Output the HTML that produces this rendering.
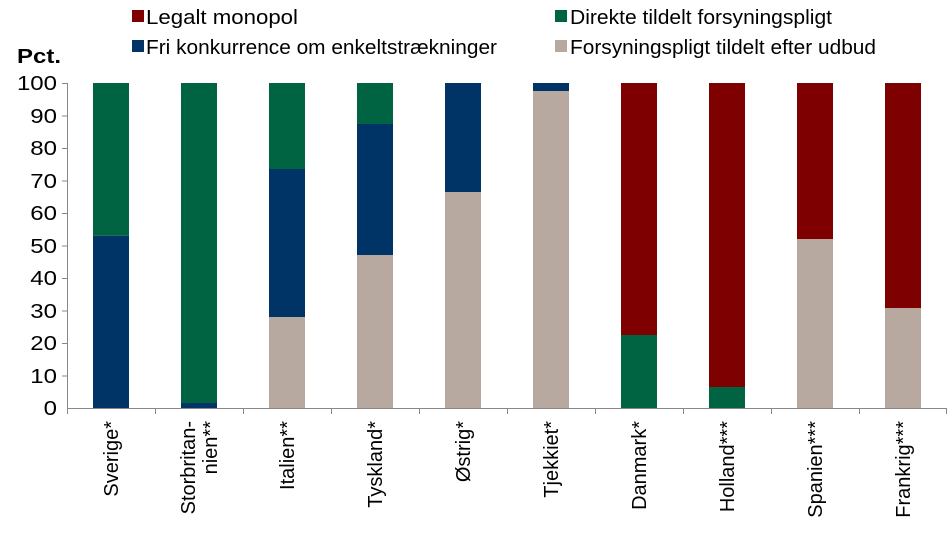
<!DOCTYPE html>
<html><head><meta charset="utf-8"><style>
body{margin:0;background:#fff}
text{font-family:"Liberation Sans",Arial,sans-serif;fill:#000}
</style></head><body>
<svg width="950" height="529" xmlns="http://www.w3.org/2000/svg">
<g font-size="20">
<rect x="132" y="10" width="12" height="12" fill="#7f0000"/><text x="146" y="24" textLength="152" lengthAdjust="spacingAndGlyphs">Legalt monopol</text>
<rect x="132" y="40" width="12" height="12" fill="#003366"/><text x="146" y="54" textLength="351" lengthAdjust="spacingAndGlyphs">Fri konkurrence om enkeltstrækninger</text>
<rect x="555" y="10" width="12" height="12" fill="#006341"/><text x="570" y="24" textLength="262" lengthAdjust="spacingAndGlyphs">Direkte tildelt forsyningspligt</text>
<rect x="555" y="40" width="12" height="12" fill="#b8a9a0"/><text x="570" y="54" textLength="306" lengthAdjust="spacingAndGlyphs">Forsyningspligt tildelt efter udbud</text>
</g>
<text x="17" y="63" font-size="20" font-weight="bold" textLength="44" lengthAdjust="spacingAndGlyphs">Pct.</text>
<g font-size="20" text-anchor="end" transform="translate(57,0) scale(1.2,1) translate(-57,0)">
<text x="57" y="90">100</text><text x="57" y="123">90</text><text x="57" y="155">80</text><text x="57" y="188">70</text><text x="57" y="220">60</text><text x="57" y="253">50</text><text x="57" y="285">40</text><text x="57" y="318">30</text><text x="57" y="350">20</text><text x="57" y="383">10</text><text x="57" y="415">0</text>
</g>
<g stroke="#888" stroke-width="1">
<line x1="67.5" y1="83" x2="67.5" y2="408"/>
<line x1="62" y1="83.5" x2="67" y2="83.5"/><line x1="62" y1="116" x2="67" y2="116"/><line x1="62" y1="148.5" x2="67" y2="148.5"/><line x1="62" y1="181" x2="67" y2="181"/><line x1="62" y1="213.5" x2="67" y2="213.5"/><line x1="62" y1="246" x2="67" y2="246"/><line x1="62" y1="278.5" x2="67" y2="278.5"/><line x1="62" y1="311" x2="67" y2="311"/><line x1="62" y1="343.5" x2="67" y2="343.5"/><line x1="62" y1="376" x2="67" y2="376"/>
<line x1="67" y1="408.5" x2="947" y2="408.5"/>
<line x1="67.5" y1="408" x2="67.5" y2="414"/><line x1="155.5" y1="408" x2="155.5" y2="414"/><line x1="243.5" y1="408" x2="243.5" y2="414"/><line x1="331.5" y1="408" x2="331.5" y2="414"/><line x1="419.5" y1="408" x2="419.5" y2="414"/><line x1="507.5" y1="408" x2="507.5" y2="414"/><line x1="595.5" y1="408" x2="595.5" y2="414"/><line x1="683.5" y1="408" x2="683.5" y2="414"/><line x1="771.5" y1="408" x2="771.5" y2="414"/><line x1="859.5" y1="408" x2="859.5" y2="414"/><line x1="946.5" y1="408" x2="946.5" y2="414"/>
</g>
<rect x="93" y="83" width="36" height="152.75" fill="#006341"/><rect x="93" y="235.75" width="36" height="172.25" fill="#003366"/>
<rect x="181" y="83" width="36" height="320" fill="#006341"/><rect x="181" y="403" width="36" height="5" fill="#003366"/>
<rect x="269" y="83" width="36" height="86" fill="#006341"/><rect x="269" y="169" width="36" height="148" fill="#003366"/><rect x="269" y="317" width="36" height="91" fill="#b8a9a0"/>
<rect x="357" y="83" width="36" height="41" fill="#006341"/><rect x="357" y="124" width="36" height="131" fill="#003366"/><rect x="357" y="255" width="36" height="153" fill="#b8a9a0"/>
<rect x="445" y="83" width="36" height="109" fill="#003366"/><rect x="445" y="192" width="36" height="216" fill="#b8a9a0"/>
<rect x="533" y="83" width="36" height="8" fill="#003366"/><rect x="533" y="91" width="36" height="317" fill="#b8a9a0"/>
<rect x="621" y="83" width="36" height="252" fill="#7f0000"/><rect x="621" y="335" width="36" height="73" fill="#006341"/>
<rect x="709" y="83" width="36" height="304" fill="#7f0000"/><rect x="709" y="387" width="36" height="21" fill="#006341"/>
<rect x="797" y="83" width="36" height="156" fill="#7f0000"/><rect x="797" y="239" width="36" height="169" fill="#b8a9a0"/>
<rect x="885" y="83" width="36" height="225" fill="#7f0000"/><rect x="885" y="308" width="36" height="100" fill="#b8a9a0"/>
<g font-size="20" text-anchor="end">
<text transform="translate(118,421) rotate(-90)">Sverige*</text>
<text transform="translate(195,421) rotate(-90)">Storbritan-</text>
<text transform="translate(217,421) rotate(-90)">nien**</text>
<text transform="translate(294,421) rotate(-90)">Italien**</text>
<text transform="translate(382,421) rotate(-90)">Tyskland*</text>
<text transform="translate(470,421) rotate(-90)">Østrig*</text>
<text transform="translate(558,421) rotate(-90)">Tjekkiet*</text>
<text transform="translate(646,421) rotate(-90)">Danmark*</text>
<text transform="translate(734,421) rotate(-90)">Holland***</text>
<text transform="translate(822,421) rotate(-90)">Spanien***</text>
<text transform="translate(910,421) rotate(-90)">Frankrig***</text>
</g>
</svg>
</body></html>
